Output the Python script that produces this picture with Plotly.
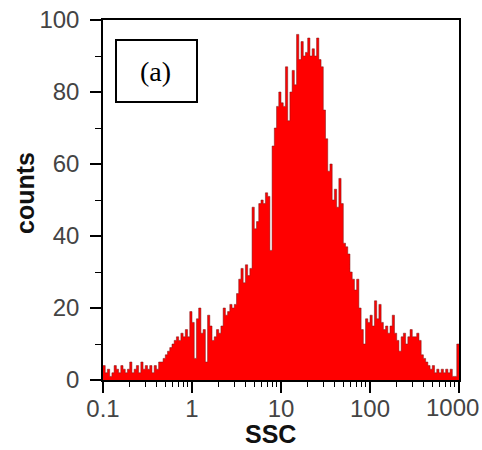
import numpy as np
import plotly.graph_objects as go

# Histogram channel counts (40 channels per decade, 0.1 .. 1000)
counts_0 = [4, 2, 3, 1, 2, 4, 3, 2, 4, 3,
            2, 3, 5, 2, 3, 4, 2, 5, 3, 4,
            3, 4, 2, 4, 3, 5, 5, 6, 7, 8,
            9, 10, 11, 12, 11, 13, 12, 14, 12, 19]
counts_1 = [16, 6, 17, 20, 13, 14, 5, 18, 15, 11,
            12, 14, 13, 15, 20, 18, 19, 21, 20, 21,
            24, 28, 31, 27, 32, 29, 31, 48, 42, 44,
            49, 50, 49, 52, 51, 36, 65, 70, 76, 80]
counts_2 = [77, 76, 87, 72, 80, 86, 82, 96, 89, 94,
            90, 91, 95, 90, 92, 90, 95, 89, 87, 75,
            67, 58, 60, 50, 53, 48, 56, 49, 38, 37,
            35, 30, 28, 25, 28, 20, 14, 10, 17, 16]
counts_3 = [18, 15, 22, 17, 21, 16, 14, 15, 13, 15,
            18, 13, 11, 8, 12, 13, 10, 12, 14, 12,
            12, 13, 11, 7, 6, 5, 4, 3, 4, 2,
            3, 2, 3, 2, 3, 2, 3, 1, 1, 10]
counts = counts_0 + counts_1 + counts_2 + counts_3

channels_per_decade = 40
log_min, log_max = -1, 3

x_ticks = [0.1, 1, 10, 100, 1000]
x_ticktext = ["0.1", "1", "10", "100", "1000"]
y_ticks = [0, 20, 40, 60, 80, 100]
x_minor = [m * 10.0 ** d for d in range(-1, 3) for m in range(2, 10)]
y_minor = [10, 30, 50, 70, 90]
x_title = "SSC"
y_title = "counts"
panel_label = "(a)"

n = len(counts)
edges = 10 ** (log_min + np.arange(n + 1) / channels_per_decade)
y_step = counts + [counts[-1]]

fig = go.Figure()
fig.add_trace(go.Scatter(
    x=edges, y=y_step, mode="lines", line_shape="hv",
    line=dict(color="rgba(120,20,20,0.85)", width=0.6),
    fill="tozeroy", fillcolor="#ff0000", hoverinfo="skip",
))

tick_font = dict(family="Liberation Sans, Arial", size=24, color="#444444")
title_font = dict(family="Liberation Sans, Arial", size=25, color="#111111")

# plot area in pixels: x 103..459, y 20..380
L, R, T, B = 103, 459, 20, 380
def px(x):
    return (x - L) / (R - L)
def py(y):
    return (B - y) / (B - T)

# last label ("1000") is placed flush to the right edge like in the reference
shown_ticktext = x_ticktext[:-1] + [""]

annotations = [
    dict(text=panel_label, xref="paper", yref="paper", x=px(155), y=py(71),
         xanchor="center", yanchor="middle", showarrow=False,
         font=dict(family="Liberation Serif, Times New Roman", size=28, color="black")),
    dict(text="<b>" + x_title + "</b>", xref="paper", yref="paper", x=px(270), y=py(434),
         xanchor="center", yanchor="middle", showarrow=False, font=title_font),
    dict(text="<b>" + y_title + "</b>", xref="paper", yref="paper", x=px(25), y=py(193),
         xanchor="center", yanchor="middle", textangle=-90, showarrow=False, font=title_font),
    dict(text=x_ticktext[-1], xref="paper", yref="paper", x=px(481), y=py(407),
         xanchor="right", yanchor="middle", showarrow=False, font=tick_font),
]

fig.update_layout(
    width=482, height=450,
    margin=dict(l=L, r=482 - R, t=T, b=450 - B, autoexpand=False),
    paper_bgcolor="white", plot_bgcolor="white",
    showlegend=False,
    xaxis=dict(
        type="log", range=[log_min, log_max], automargin=False,
        tickvals=x_ticks, ticktext=shown_ticktext,
        ticklabelstandoff=-5,
        ticks="outside", ticklen=11, tickwidth=1.5, tickcolor="black",
        minor=dict(tickvals=x_minor, ticks="outside", ticklen=5, tickwidth=1.2, tickcolor="black"),
        showline=True, linecolor="black", linewidth=1.5, mirror=True,
        showgrid=False, zeroline=False,
        tickfont=tick_font,
    ),
    yaxis=dict(
        range=[0, 100], tickvals=y_ticks, automargin=False,
        ticklabelstandoff=6,
        ticks="outside", ticklen=11, tickwidth=1.5, tickcolor="black",
        minor=dict(tickvals=y_minor, ticks="outside", ticklen=6, tickwidth=1.2, tickcolor="black"),
        showline=True, linecolor="black", linewidth=1.5, mirror=True,
        showgrid=False, zeroline=False,
        tickfont=tick_font,
    ),
    shapes=[dict(type="rect", xref="paper", yref="paper",
                 x0=px(116), x1=px(197), y0=py(102), y1=py(40),
                 line=dict(color="black", width=2), fillcolor="white")],
    annotations=annotations,
)

fig.write_html("out.html")
